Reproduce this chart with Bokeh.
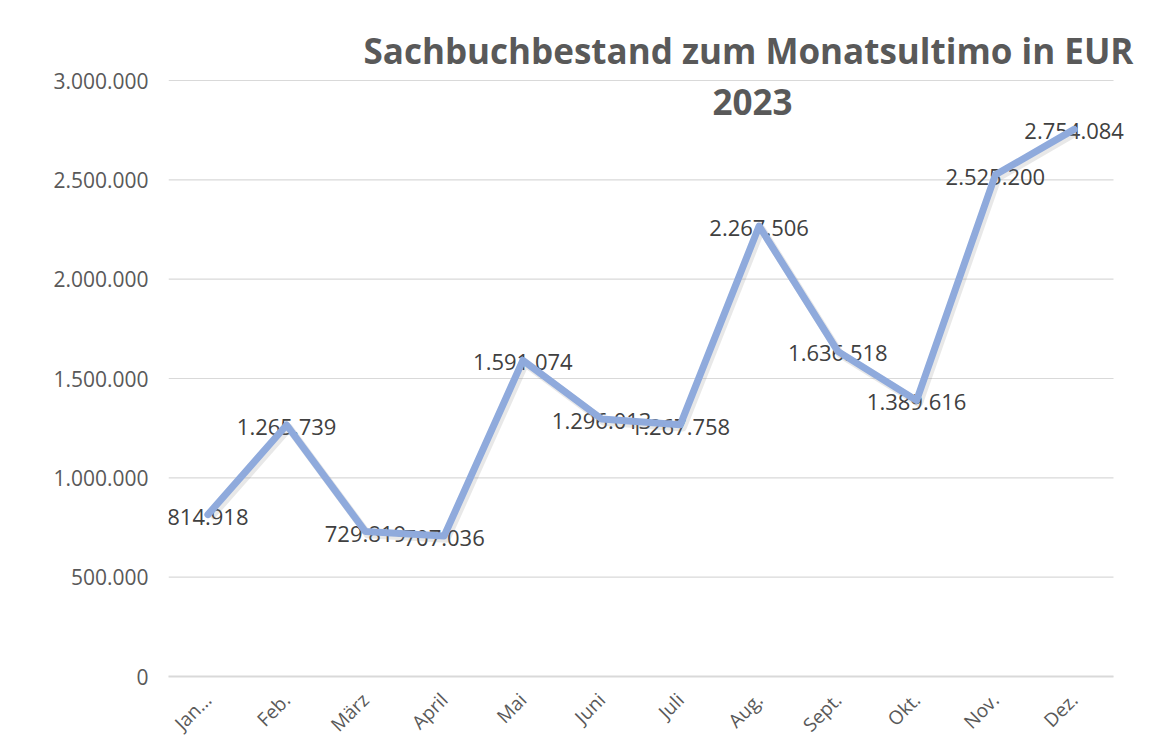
import math
from bokeh.plotting import figure
from bokeh.models import FixedTicker, Label, ColumnDataSource
from bokeh.transform import dodge
from bokeh.core.properties import value
from bokeh.embed import file_html
from bokeh.resources import INLINE

months = ["Jan...", "Feb.", "März", "April", "Mai", "Juni", "Juli", "Aug.", "Sept.", "Okt.", "Nov.", "Dez."]
bestand = [814918, 1265739, 729819, 707036, 1591074, 1296013, 1267758, 2267506, 1636518, 1389616, 2525200, 2754084]
y_ticks = [0, 500000, 1000000, 1500000, 2000000, 2500000, 3000000]
y_tick_labels = ["0", "500.000", "1.000.000", "1.500.000", "2.000.000", "2.500.000", "3.000.000"]
title_line1 = "Sachbuchbestand zum Monatsultimo in EUR"
title_line2 = "2023"

idx = list(range(len(months)))
labels = [f"{v:,}".replace(",", ".") for v in bestand]
src = ColumnDataSource(dict(x=idx, y=bestand, lab=labels))

FONT = "Open Sans"
W, H = 1142, 749
top, left = 20, 168
bottom = H - 676
right = 0
frame_h = H - top - bottom
px_per_unit = 596 / 3000000
y_end = frame_h / px_per_unit
cat_w = 945 / 12
x_start = -0.5
x_end = x_start + (W - left - right) / cat_w

p = figure(width=W, height=H, x_range=(x_start, x_end), y_range=(0, y_end),
           output_backend="svg", toolbar_location=None,
           min_border_top=top, min_border_bottom=bottom,
           min_border_left=left, min_border_right=right)
p.outline_line_color = None

p.yaxis.ticker = FixedTicker(ticks=y_ticks)
p.yaxis.major_label_overrides = {t: l for t, l in zip(y_ticks, y_tick_labels)}
p.yaxis.axis_line_color = None
p.yaxis.major_tick_line_color = None
p.yaxis.minor_tick_line_color = None
p.yaxis.major_label_text_font = FONT
p.yaxis.major_label_text_font_size = "21px"
p.yaxis.major_label_text_color = "#595959"
p.yaxis.major_label_standoff = 14

p.xaxis.ticker = FixedTicker(ticks=idx)
p.xaxis.major_label_overrides = {i: m for i, m in zip(idx, months)}
p.xaxis.bounds = (-0.5, len(months) - 0.5)
p.xaxis.axis_line_color = "#d9d9d9"
p.xaxis.axis_line_width = 2
p.xaxis.major_tick_line_color = None
p.xaxis.minor_tick_line_color = None
p.xaxis.major_label_orientation = math.pi / 4
p.xaxis.major_label_text_font = FONT
p.xaxis.major_label_text_font_size = "19px"
p.xaxis.major_label_text_color = "#595959"
p.xaxis.major_label_standoff = 14

p.xgrid.grid_line_color = None
p.ygrid.grid_line_color = None

# horizontal gridlines limited to the category area
p.segment(x0=-0.5, x1=len(months) - 0.5, y0=y_ticks, y1=y_ticks,
          line_color="#d9d9d9", line_width=1.2)

# data labels
p.text(x="x", y="y", text="lab", source=src, text_align="center", text_baseline="middle",
       text_font=value(FONT), text_font_size="22px", text_color="#404040",
       y_offset=2)

# shadow
p.line(x=dodge("x", 0.03), y=dodge("y", -14000), source=src,
       line_color="#7f7f7f", line_alpha=0.18, line_width=8, line_join="round")
# main line
p.line(x="x", y="y", source=src, line_color="#8faadc", line_width=7, line_join="round",
       line_cap="round")

# title
tx = x_start + (748 - left) / cat_w
tx2 = x_start + (752 - left) / cat_w
y1 = y_end - 30 / px_per_unit
y2 = y_end - 81 / px_per_unit
for txt, xx, yy in [(title_line1, tx, y1), (title_line2, tx2, y2)]:
    p.add_layout(Label(x=xx, y=yy, text=txt, text_align="center", text_baseline="middle",
                       text_font=FONT, text_font_size="35px", text_font_style="bold",
                       text_color="#595959"))

open("out.html", "w").write(file_html(p, INLINE))
